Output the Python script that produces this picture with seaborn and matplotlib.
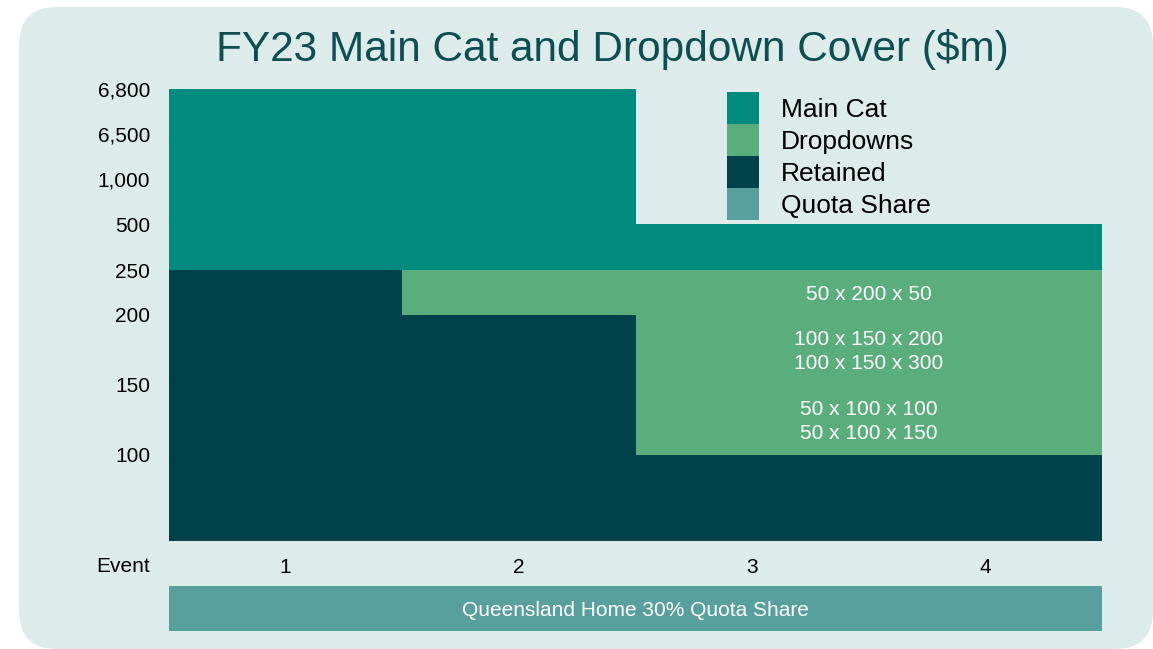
import numpy as np
import pandas as pd
import matplotlib
matplotlib.use("Agg")
import matplotlib.pyplot as plt
import seaborn as sns
from matplotlib.patches import FancyBboxPatch, Patch
from matplotlib.transforms import IdentityTransform

# ---------------- data ----------------
events = ["1", "2", "3", "4"]
retained = [250, 200, 100, 100]
dropdowns = [0, 50, 150, 150]
main_cat_top = [6800, 6800, 500, 500]
y_ticks = [100, 150, 200, 250, 500, 1000, 6500, 6800]
dropdown_labels = ["50 x 200 x 50",
                   "100 x 150 x 200\n100 x 150 x 300",
                   "50 x 100 x 100\n50 x 100 x 150"]
dropdown_label_bands = [(200, 250), (150, 200), (100, 150)]
quota_label = "Queensland Home 30% Quota Share"
legend_labels = ["Main Cat", "Dropdowns", "Retained", "Quota Share"]
title = "FY23 Main Cat and Dropdown Cover ($m)"

# ---------------- style / layout ----------------
C_MAIN = "#008B7E"
C_DROP = "#5AAE7B"
C_RET = "#00424A"
C_QUOTA = "#58A09E"
C_BG = "#DDEBEA"
C_TITLE = "#0D4F50"

# piecewise visual scale of the value axis (value -> visual height)
scale_vals = [0, 100, 150, 200, 250, 500, 1000, 6500, 6800]
scale_pos = [0, 86, 157, 226, 271, 317, 362, 407, 452]


def fwd(v):
    return np.interp(v, scale_vals, scale_pos)


def inv(p):
    return np.interp(p, scale_pos, scale_vals)


sns.set_theme(style="white")
plt.rcParams["font.family"] = ["Liberation Sans", "DejaVu Sans"]

W, H = 1153, 649
fig = plt.figure(figsize=(W / 100, H / 100), dpi=100)
fig.patch.set_facecolor("white")

bg = FancyBboxPatch((19, 0), 1134, 642, boxstyle="round,pad=0,rounding_size=38",
                    facecolor=C_BG, edgecolor="none", transform=IdentityTransform(),
                    zorder=-10)
fig.patches.append(bg)

ax = fig.add_axes([169 / W, (H - 541) / H, 933 / W, 452 / H])
ax.set_facecolor("none")
ax.set_yscale("function", functions=(fwd, inv))

df = pd.DataFrame({
    "event": events,
    "retained": retained,
    "drop_top": np.array(retained) + np.array(dropdowns),
    "main_top": main_cat_top,
})

common = dict(width=1, linewidth=0, errorbar=None, saturation=1, ax=ax)
sns.barplot(data=df, x="event", y="main_top", color=C_MAIN, **common)
sns.barplot(data=df, x="event", y="drop_top", color=C_DROP, **common)
sns.barplot(data=df, x="event", y="retained", color=C_RET, **common)

ax.set_ylim(0, 6800)
ax.set_xlim(-0.5, len(events) - 0.5)
ax.set_yticks(y_ticks)
ax.set_yticklabels([f"{v:,}" for v in y_ticks])
ax.yaxis.set_minor_locator(matplotlib.ticker.NullLocator())
ax.set_xlabel("")
ax.set_ylabel("")
for s in ax.spines.values():
    s.set_visible(False)
ax.tick_params(axis="y", length=0, pad=13.5, labelsize=15, labelcolor="black")
ax.tick_params(axis="x", length=0, pad=12, labelsize=15, labelcolor="black")

# dropdown layer annotations across events 3 and 4
x_mid = (2 + 3) / 2
for lab, (lo, hi) in zip(dropdown_labels, dropdown_label_bands):
    ax.annotate(lab, (x_mid, (lo + hi) / 2), xytext=(0, -1.5), textcoords="offset points",
                ha="center", va="center", color="white", fontsize=15, linespacing=1.3)

fig.text(150 / W, 1 - 567 / H, "Event", ha="right", va="center", fontsize=15, color="black")

# quota share band
ax2 = fig.add_axes([169 / W, (H - 631) / H, 933 / W, 45 / H])
ax2.set_facecolor("none")
sns.barplot(x=[1], y=[quota_label], orient="h", width=1, color=C_QUOTA,
            linewidth=0, saturation=1, errorbar=None, ax=ax2)
ax2.set_xlim(0, 1)
ax2.set_ylim(0.5, -0.5)
ax2.set_xticks([])
ax2.set_yticks([])
ax2.set_xlabel("")
ax2.set_ylabel("")
for s in ax2.spines.values():
    s.set_visible(False)
ax2.text(0.5, 0.46, quota_label, transform=ax2.transAxes, ha="center", va="center",
         color="white", fontsize=15)

# title
fig.text(612 / W, 1 - 49 / H, title, ha="center", va="center", fontsize=30.5, color=C_TITLE)

# legend
handles = [Patch(facecolor=c, edgecolor="none") for c in [C_MAIN, C_DROP, C_RET, C_QUOTA]]
fig.legend(handles=handles, labels=legend_labels, loc="upper left",
           bbox_to_anchor=(727 / W, 1 - 92 / H), frameon=False, fontsize=19,
           handlelength=1.2, handleheight=1.49, labelspacing=0, handletextpad=0.85,
           borderpad=0, borderaxespad=0, labelcolor="black")

fig.savefig("out.png", dpi=100)
